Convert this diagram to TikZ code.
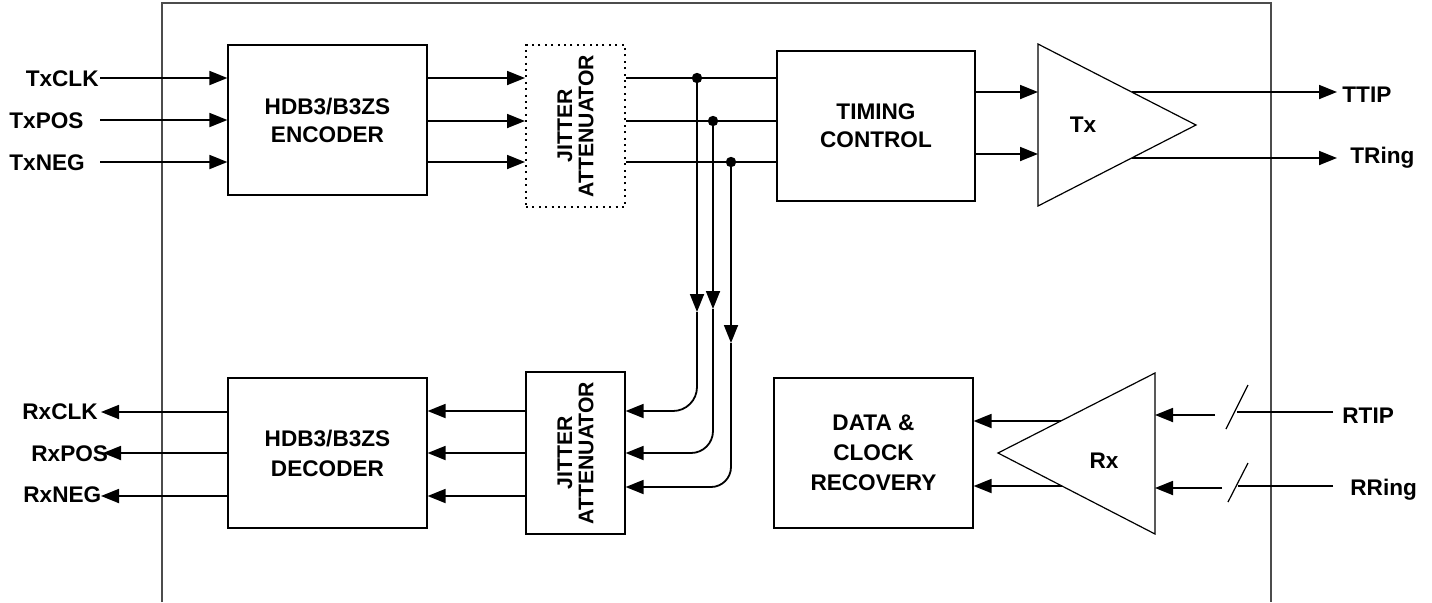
\documentclass[tikz,border=0pt]{standalone}
\usepackage{fontspec}
\setmainfont{Liberation Sans}
\usetikzlibrary{arrows.meta}
\begin{document}
\begin{tikzpicture}[x=0.5pt,y=-0.5pt,
  every node/.style={font=\bfseries\fontsize{11.3}{14}\selectfont, inner sep=0pt},
  blk/.style={draw, line width=0.6pt, align=center},
  conn/.style={line width=0.9pt},
  thin/.style={line width=0.6pt},
  arr/.style={conn, -{Triangle[length=9pt,width=7pt]}},
  jtext/.style={rotate=90, align=center, font=\bfseries\fontsize{10.6}{10.6}\selectfont},
]
\useasboundingbox (0,0) rectangle (1432,602);
% outer frame
\draw[gray!60!black, line width=0.6pt] (162,602) -- (162,3) -- (1271,3) -- (1271,602);

% blocks
\node[blk, minimum width=99.5pt, minimum height=75pt] (enc) at (327.5,120) {HDB3/B3ZS\\ENCODER};
\node[draw, line width=1pt, dash pattern=on 1pt off 2.2pt, minimum width=49.5pt, minimum height=81pt] (jt1) at (575.5,126) {};
\node[jtext] (jt1t) at (jt1.center) {JITTER\\ATTENUATOR};
\node[blk, minimum width=99pt, minimum height=75pt] (tim) at (876,126) {TIMING\\CONTROL};
\node[blk, minimum width=99.5pt, minimum height=75pt, font=\bfseries\fontsize{11.3}{15}\selectfont] (dec) at (327.5,453) {HDB3/B3ZS\\DECODER};
\node[blk, minimum width=49.5pt, minimum height=81pt] (jt2) at (575.5,453) {};
\node[jtext] (jt2t) at (jt2.center) {JITTER\\ATTENUATOR};
\node[blk, minimum width=99.5pt, minimum height=75pt, font=\bfseries\fontsize{11.3}{15}\selectfont] (dcr) at (873.5,453) {DATA \&\\CLOCK\\RECOVERY};

% Tx triangle
\coordinate (txa) at (1038,44);
\coordinate (txb) at (1038,206);
\coordinate (txp) at (1196,125);
\draw[thin] (txa) -- (txp) -- (txb) -- cycle;
\node[anchor=base] (txl) at (1083,132) {Tx};

% Rx triangle
\coordinate (rxa) at (1155,373);
\coordinate (rxb) at (1155,534);
\coordinate (rxp) at (998,453);
\draw[thin] (rxa) -- (rxb) -- (rxp) -- cycle;
\node[anchor=base] (rxl) at (1104,468) {Rx};

% left inputs
\node[anchor=base east] (ltxclk) at (99,86.5) {TxCLK};
\node[anchor=base west] (ltxpos) at (9,128.5) {TxPOS};
\node[anchor=base west] (ltxneg) at (9,170.5) {TxNEG};
\coordinate (i1) at (100,78);
\coordinate (i2) at (100,120);
\coordinate (i3) at (100,162);
\draw[arr] (i1) -- (enc.west |- i1);
\draw[arr] (i2) -- (enc.west |- i2);
\draw[arr] (i3) -- (enc.west |- i3);

% encoder -> jitter
\coordinate (e1) at (427,78);
\coordinate (e2) at (427,121);
\coordinate (e3) at (427,162);
\draw[arr] (enc.east |- e1) -- (jt1.west |- e1);
\draw[arr] (enc.east |- e2) -- (jt1.west |- e2);
\draw[arr] (enc.east |- e3) -- (jt1.west |- e3);

% jitter -> timing, with taps
\coordinate (d1) at (697,78);
\coordinate (d2) at (713,121);
\coordinate (d3) at (731,162);
\draw[conn] (jt1.east |- d1) -- (tim.west |- d1);
\draw[conn] (jt1.east |- d2) -- (tim.west |- d2);
\draw[conn] (jt1.east |- d3) -- (tim.west |- d3);
\fill (d1) circle (2.6pt);
\fill (d2) circle (2.6pt);
\fill (d3) circle (2.6pt);

\coordinate (m1) at (697,312);
\coordinate (m2) at (713,309);
\coordinate (m3) at (731,343);
\coordinate (b1) at (625,411);
\coordinate (b2) at (625,453);
\coordinate (b3) at (625,487);
\draw[arr] (d1) -- (m1);
\draw[arr] (d2) -- (m2);
\draw[arr] (d3) -- (m3);
\draw[arr, rounded corners=12pt] (m1) |- (jt2.east |- b1);
\draw[arr, rounded corners=11pt] (m2) |- (jt2.east |- b2);
\draw[arr, rounded corners=10pt] (m3) |- (jt2.east |- b3);

% timing -> Tx
\coordinate (t1) at (1038,92);
\coordinate (t2) at (1038,154);
\draw[arr] (tim.east |- t1) -- (t1);
\draw[arr] (tim.east |- t2) -- (t2);

% Tx outputs
\coordinate (o1s) at (1132,92);
\coordinate (o1e) at (1337,92);
\coordinate (o2s) at (1132,158);
\coordinate (o2e) at (1337,158);
\draw[arr] (o1s) -- (o1e);
\draw[arr] (o2s) -- (o2e);
\node[anchor=base west] (lttip) at (1342,102) {TTIP};
\node[anchor=base west] (ltring) at (1350,163) {TRing};

% Rx inputs with breaks
\coordinate (r1a) at (1333,412);
\coordinate (r1b) at (1237,412);
\coordinate (s1a) at (1226,429);
\coordinate (s1b) at (1248,385);
\coordinate (r1c) at (1215,415);
\draw[conn] (r1a) -- (r1b);
\draw[thin] (s1a) -- (s1b);
\draw[arr] (r1c) -- (rxa |- r1c);
\coordinate (r2a) at (1333,486);
\coordinate (r2b) at (1238,486);
\coordinate (s2a) at (1228,502);
\coordinate (s2b) at (1248,463);
\coordinate (r2c) at (1222,488);
\draw[conn] (r2a) -- (r2b);
\draw[thin] (s2a) -- (s2b);
\draw[arr] (r2c) -- (rxa |- r2c);
\node[anchor=base west] (lrtip) at (1342,423) {RTIP};
\node[anchor=base west] (lrring) at (1350,495) {RRing};

% Rx -> data & clock recovery
\coordinate (q1) at (1061,421);
\coordinate (q2) at (1062,486);
\draw[arr] (q1) -- (dcr.east |- q1);
\draw[arr] (q2) -- (dcr.east |- q2);

% jitter -> decoder
\coordinate (j1) at (526,411);
\coordinate (j2) at (526,453);
\coordinate (j3) at (526,496);
\draw[arr] (jt2.west |- j1) -- (dec.east |- j1);
\draw[arr] (jt2.west |- j2) -- (dec.east |- j2);
\draw[arr] (jt2.west |- j3) -- (dec.east |- j3);

% decoder outputs
\coordinate (x1) at (101,412);
\coordinate (x2) at (103,453);
\coordinate (x3) at (101,496);
\draw[arr] (dec.west |- x1) -- (x1);
\draw[arr] (dec.west |- x2) -- (x2);
\draw[arr] (dec.west |- x3) -- (x3);
\node[anchor=base west] (lrxclk) at (22,419) {RxCLK};
\node[anchor=base west] (lrxpos) at (31,461) {RxPOS};
\node[anchor=base west] (lrxneg) at (23,502) {RxNEG};
\end{tikzpicture}
\end{document}
